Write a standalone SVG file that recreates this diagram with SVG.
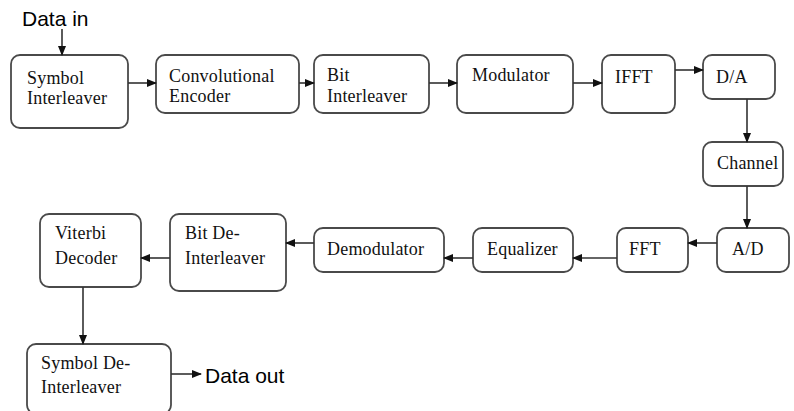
<svg xmlns="http://www.w3.org/2000/svg" width="794" height="411" viewBox="0 0 794 411">
<defs>
<marker id="ah" markerWidth="10" markerHeight="8" refX="9" refY="4" orient="auto" markerUnits="userSpaceOnUse">
<path d="M0,0 L10,4 L0,8 Z" fill="#111"/>
</marker>
<style>
.box{fill:#fff;stroke:#4a4a4a;stroke-width:1.8}
.t{font-family:"Liberation Serif","Times New Roman",serif;font-size:18px;fill:#111;letter-spacing:0.2px}
.big{font-family:"Liberation Sans",Arial,sans-serif;font-size:21px;fill:#000}
.c{stroke:#333;stroke-width:1.6;fill:none;marker-end:url(#ah)}
</style>
</defs>
<rect width="794" height="411" fill="#fff"/>
<text class="big" x="22" y="26">Data in</text>
<text class="big" x="205" y="383">Data out</text>
<g id="symbol_interleaver"><rect class="box" x="11" y="55" width="117" height="73" rx="9"/><text class="t" x="27" y="84">Symbol</text><text class="t" x="27" y="104">Interleaver</text></g>
<g id="conv_encoder"><rect class="box" x="156" y="55" width="143" height="58" rx="9"/><text class="t" x="169" y="82">Convolutional</text><text class="t" x="169" y="102">Encoder</text></g>
<g id="bit_interleaver"><rect class="box" x="314" y="55" width="115" height="58" rx="9"/><text class="t" x="327" y="81">Bit</text><text class="t" x="327" y="102">Interleaver</text></g>
<g id="modulator"><rect class="box" x="457" y="55" width="116" height="58" rx="9"/><text class="t" x="472" y="81">Modulator</text></g>
<g id="ifft"><rect class="box" x="602" y="55" width="73" height="58" rx="9"/><text class="t" x="615" y="83">IFFT</text></g>
<g id="da"><rect class="box" x="703" y="55" width="72" height="44" rx="9"/><text class="t" x="716" y="83">D/A</text></g>
<g id="channel"><rect class="box" x="703" y="142" width="80" height="44" rx="9"/><text class="t" x="717" y="169">Channel</text></g>
<g id="ad"><rect class="box" x="717" y="228" width="72" height="44" rx="9"/><text class="t" x="732" y="255">A/D</text></g>
<g id="fft"><rect class="box" x="617" y="228" width="71" height="44" rx="9"/><text class="t" x="629" y="255">FFT</text></g>
<g id="equalizer"><rect class="box" x="473" y="228" width="100" height="44" rx="9"/><text class="t" x="487" y="255">Equalizer</text></g>
<g id="demodulator"><rect class="box" x="314" y="228" width="130" height="44" rx="9"/><text class="t" x="327" y="255">Demodulator</text></g>
<g id="bit_deinterleaver"><rect class="box" x="170" y="214" width="116" height="77" rx="9"/><text class="t" x="185" y="239">Bit De-</text><text class="t" x="185" y="264">Interleaver</text></g>
<g id="viterbi"><rect class="box" x="40" y="214" width="101" height="73" rx="9"/><text class="t" x="55" y="239">Viterbi</text><text class="t" x="55" y="264">Decoder</text></g>
<g id="symbol_deinterleaver"><rect class="box" x="27" y="344" width="144" height="70" rx="9"/><text class="t" x="41" y="369">Symbol De-</text><text class="t" x="41" y="393">Interleaver</text></g>
<g id="connectors">
<line class="c" x1="62" y1="29" x2="62" y2="55"/>
<line class="c" x1="128" y1="83" x2="156" y2="83"/>
<line class="c" x1="299" y1="83" x2="314" y2="83"/>
<line class="c" x1="429" y1="83" x2="457" y2="83"/>
<line class="c" x1="573" y1="83" x2="602" y2="83"/>
<line class="c" x1="675" y1="70" x2="703" y2="70"/>
<line class="c" x1="747" y1="99" x2="747" y2="142"/>
<line class="c" x1="747" y1="186" x2="747" y2="228"/>
<line class="c" x1="717" y1="243" x2="688" y2="243"/>
<line class="c" x1="617" y1="258" x2="573" y2="258"/>
<line class="c" x1="473" y1="258" x2="444" y2="258"/>
<line class="c" x1="314" y1="243" x2="286" y2="243"/>
<line class="c" x1="170" y1="258" x2="141" y2="258"/>
<line class="c" x1="83" y1="287" x2="83" y2="344"/>
<line class="c" x1="171" y1="374" x2="201" y2="374"/>
</g>
</svg>
